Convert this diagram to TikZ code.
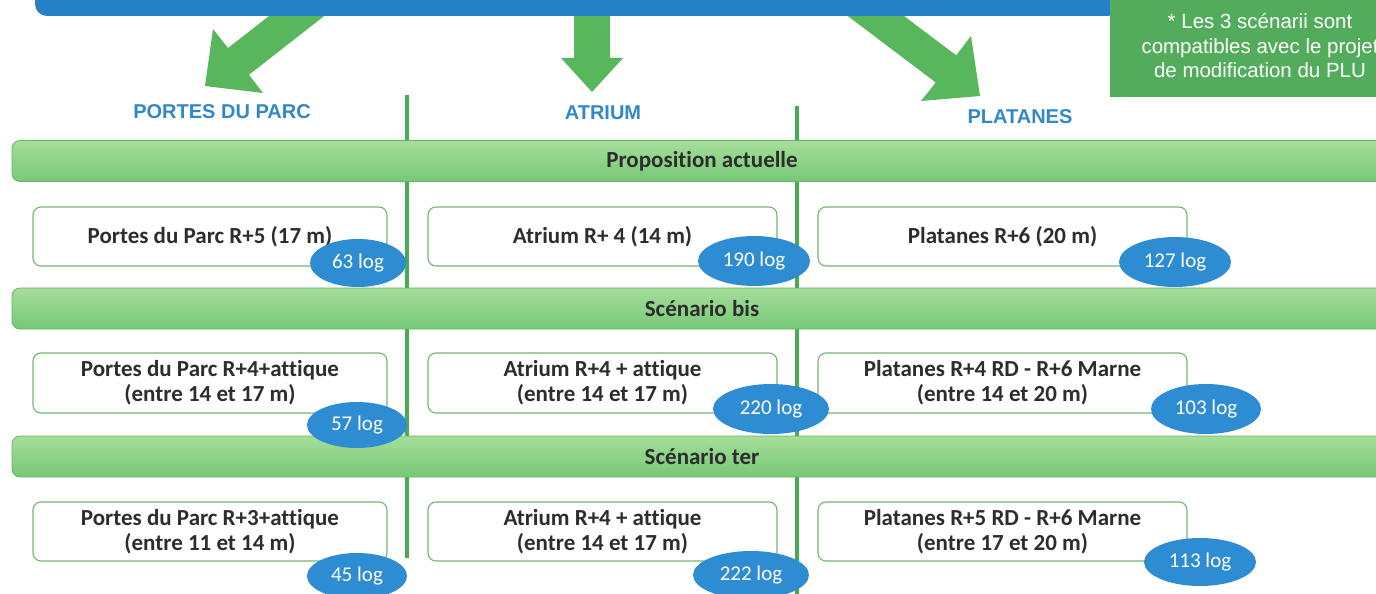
\documentclass[tikz,border=0pt]{standalone}
\usepackage{fontspec}
\setmainfont{Carlito}[Ligatures=NoCommon]
\newfontfamily\arialf{Liberation Sans}
\usetikzlibrary{shapes.geometric}
\definecolor{barblue}{RGB}{38,128,198}
\definecolor{arrgreen}{RGB}{88,182,92}
\definecolor{hdrblue}{RGB}{50,135,200}
\definecolor{bandtop}{RGB}{165,222,155}
\definecolor{bandbot}{RGB}{118,200,118}
\definecolor{bandline}{RGB}{105,178,100}
\definecolor{boxline}{RGB}{115,182,115}
\definecolor{ellblue}{RGB}{45,140,210}
\definecolor{txtgray}{RGB}{45,45,45}
\definecolor{notegreen}{RGB}{82,172,92}
\definecolor{vlinec}{RGB}{72,170,82}
\newcommand\boxfont{\fontsize{23}{25}\selectfont\bfseries}
\newcommand\ellfont{\fontsize{21}{24}\selectfont}
\newcommand\hdrfont{\arialf\fontsize{20}{24}\selectfont\bfseries}
\newcommand\notefont{\arialf\fontsize{20.5}{24.5}\selectfont}
\tikzset{
  bx/.style={draw=boxline, line width=1.1pt, fill=white, rounded corners=8pt,
    minimum height=59pt, inner sep=0pt, align=center, text=txtgray, font=\boxfont},
  band/.style={draw=bandline, line width=0.8pt, top color=bandtop, bottom color=bandbot,
    rounded corners=8pt, minimum width=1380pt, minimum height=41pt, inner sep=0pt,
    text=txtgray, font=\boxfont},
  ell/.style={ellipse, fill=ellblue, inner sep=0pt, text=white, font=\ellfont},
  hdr/.style={text=hdrblue, font=\hdrfont, inner sep=0pt},
  vline/.style={draw=vlinec, line width=4pt},
  blockarrow/.style={fill=arrgreen, draw=none}
}
\begin{document}
\begin{tikzpicture}[x=1pt,y=-1pt]
\useasboundingbox (0,0) rectangle (1376,594);
\clip (0,0) rectangle (1376,594);
\fill[white] (0,0) rectangle (1376,594);
% block arrows
\fill[blockarrow] (296,-5) -- (228,48) -- (213,29) -- (205,86) -- (263,93) -- (249,74.8) -- (351,-5) -- cycle;
\fill[blockarrow] (574,-5) -- (574,58) -- (561,58) -- (592,92) -- (623,58) -- (610,58) -- (610,-5) -- cycle;
\fill[blockarrow] (876,-5) -- (956.2,55.3) -- (971,36) -- (980,96) -- (921,101) -- (935.8,82.5) -- (820,-5) -- cycle;
% top blue bar
\node[fill=barblue, rounded corners=12pt, minimum width=1085pt, minimum height=50pt, inner sep=0pt] (bar) at (577.5,-9) {};
% note box
\node[fill=notegreen, minimum width=300pt, minimum height=102pt, inner sep=0pt, text=white, font=\notefont, align=center] (note) at (1260,46)
  {* Les 3 scénarii sont\\compatibles avec le projet\\de modification du PLU};
% headers
\node[hdr] (h1) at (222,112) {PORTES DU PARC};
\node[hdr] (h2) at (603,113) {ATRIUM};
\node[hdr] (h3) at (1020,117) {PLATANES};
% vertical separators
\coordinate (v1t) at (407,95); \coordinate (v1b) at (407,558);
\coordinate (v2t) at (797,106); \coordinate (v2b) at (797,600);
\draw[vline] (v1t) -- (v1b);
\draw[vline] (v2t) -- (v2b);
% bands
\node[band] (b1) at (702,161) {Proposition actuelle};
\node[band] (b2) at (702,308.5) {Scénario bis};
\node[band] (b3) at (702,456.5) {Scénario ter};
% boxes row 1
\node[bx, minimum width=354pt] (p1) at (210,236.5) {Portes du Parc R+5 (17 m)};
\node[bx, minimum width=349pt] (a1) at (602.5,236.5) {Atrium R+ 4 (14 m)};
\node[bx, minimum width=369pt] (l1) at (1002.5,236.5) {Platanes R+6 (20 m)};
% boxes row 2
\node[bx, minimum width=354pt, minimum height=60pt] (p2) at (210,383) {Portes du Parc R+4+attique\\(entre 14 et 17 m)};
\node[bx, minimum width=349pt, minimum height=60pt] (a2) at (602.5,383) {Atrium R+4 + attique\\(entre 14 et 17 m)};
\node[bx, minimum width=369pt, minimum height=60pt] (l2) at (1002.5,383) {Platanes R+4 RD - R+6 Marne\\(entre 14 et 20 m)};
% boxes row 3
\node[bx, minimum width=354pt] (p3) at (210,531.5) {Portes du Parc R+3+attique\\(entre 11 et 14 m)};
\node[bx, minimum width=349pt] (a3) at (602.5,531.5) {Atrium R+4 + attique\\(entre 14 et 17 m)};
\node[bx, minimum width=369pt] (l3) at (1002.5,531.5) {Platanes R+5 RD - R+6 Marne\\(entre 17 et 20 m)};
% ellipses
\node[ell, minimum width=96pt, minimum height=48pt] (e11) at (358,263) {63 log};
\node[ell, minimum width=112pt, minimum height=50pt] (e12) at (754,261) {190 log};
\node[ell, minimum width=112pt, minimum height=50pt] (e13) at (1175,262) {127 log};
\node[ell, minimum width=100pt, minimum height=46pt] (e21) at (357,425) {57 log};
\node[ell, minimum width=116pt, minimum height=50pt] (e22) at (771,409) {220 log};
\node[ell, minimum width=110pt, minimum height=50pt] (e23) at (1206,409) {103 log};
\node[ell, minimum width=100pt, minimum height=46pt] (e31) at (357,576) {45 log};
\node[ell, minimum width=116pt, minimum height=48pt] (e32) at (751,575) {222 log};
\node[ell, minimum width=112pt, minimum height=48pt] (e33) at (1200,562) {113 log};
\end{tikzpicture}
\end{document}
